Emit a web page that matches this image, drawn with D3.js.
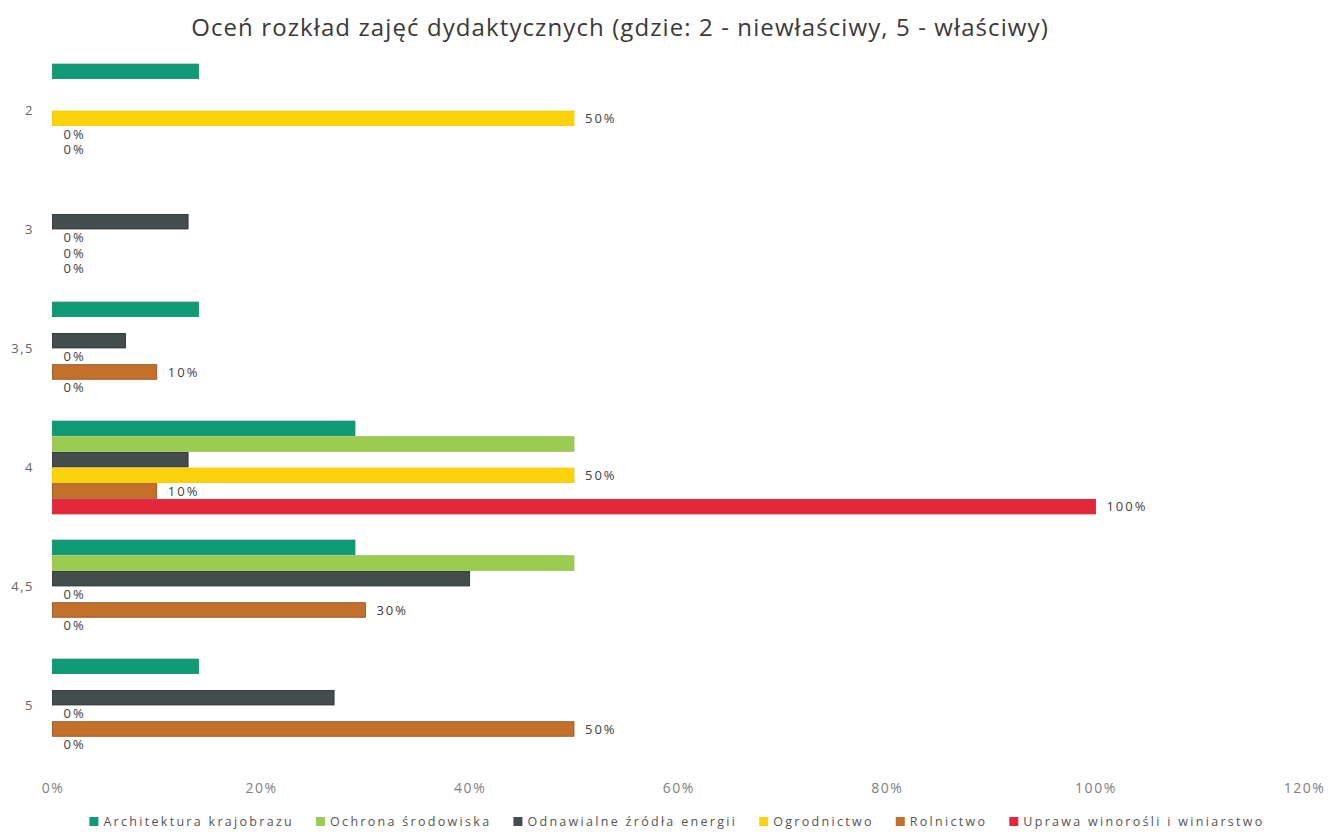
<!DOCTYPE html>
<html><head><meta charset="utf-8">
<script src="https://cdn.jsdelivr.net/npm/d3@7"></script>
<style>body{margin:0;background:#fff}svg{display:block}</style>
</head><body><svg id="c" width="1333" height="832"></svg>
<script>
const title = "Oceń rozkład zajęć dydaktycznych (gdzie: 2 - niewłaściwy, 5 - właściwy)";
const categories = ["2", "3", "3,5", "4", "4,5", "5"];
const seriesNames = ["Architektura krajobrazu", "Ochrona środowiska", "Odnawialne źródła energii", "Ogrodnictwo", "Rolnictwo", "Uprawa winorośli i winiarstwo"];
const architektura = [14, null, 14, 29, 29, 14];
const ochrona = [null, null, null, 50, 50, null];
const odnawialne = [null, 13, 7, 13, 40, 27];
const ogrodnictwo = [50, 0, 0, 50, 0, 0];
const rolnictwo = [0, 0, 10, 10, 30, 50];
const uprawa = [0, 0, 0, 100, 0, 0];
const labelled = [false, false, false, true, true, true];
const xTicks = [0, 20, 40, 60, 80, 100, 120];
const colors = ["#119a76", "#9ccb52", "#434d4d", "#fdd20a", "#c2702a", "#e2283a"];
const strokes = ["#0e8a69", "#92c04a", "#222a2a", "#f3c800", "#8e4d1a", "#c81e30"];

const values = [architektura, ochrona, odnawialne, ogrodnictwo, rolnictwo, uprawa];
const svg = d3.select("#c");
const x = d3.scaleLinear().domain([0, 120]).range([52.5, 1304]);
const y0 = d3.scaleBand().domain(categories).range([51, 765]).paddingInner(0.22).paddingOuter(0.11);
const y1 = d3.scaleBand().domain(d3.range(6)).range([0, y0.bandwidth()]).paddingInner(0.07);

svg.append("text").attr("x", 620).attr("y", 36).attr("text-anchor", "middle")
  .attr("font-family", "Open Sans").attr("font-size", 24).attr("letter-spacing", 1.1)
  .attr("fill", "#3a3a3a").text(title);

const g = svg.append("g");
categories.forEach((c, ci) => {
  values.forEach((arr, si) => {
    const v = arr[ci];
    if (v === null) return;
    const yy = y0(c) + y1(si);
    if (v > 0) {
      g.append("rect").attr("x", x(0)).attr("y", yy).attr("width", x(v) - x(0)).attr("height", y1.bandwidth())
        .attr("fill", colors[si]).attr("stroke", strokes[si]).attr("stroke-width", 0.8);
    }
    if (labelled[si]) {
      g.append("text").attr("x", x(v) + 11).attr("y", yy + y1.bandwidth() / 2).attr("dy", "0.36em")
        .attr("font-family", "Open Sans").attr("font-size", 13).attr("letter-spacing", 2)
        .attr("fill", "#404040").text(v + "%");
    }
  });
});

// category axis
svg.append("g").selectAll("text").data(categories).join("text")
  .attr("x", 34).attr("y", d => y0(d) + y0.bandwidth() / 2).attr("dy", "0.35em").attr("text-anchor", "end")
  .attr("font-family", "Open Sans").attr("font-size", 13).attr("letter-spacing", 1.5)
  .attr("fill", "#666").text(d => d);

// x axis
const xa = svg.append("g").attr("transform", "translate(0,788)")
  .call(d3.axisBottom(x).tickValues(xTicks).tickFormat(d => d + "%").tickSize(0).tickPadding(0));
xa.select(".domain").remove();
xa.selectAll("text").attr("font-family", "Open Sans").attr("font-size", 14).attr("fill", "#808080")
  .attr("dy", "0.35em").attr("letter-spacing", 1.5);

// legend
const lg = svg.append("g");
let cx = 0;
seriesNames.forEach((n, i) => {
  const it = lg.append("g");
  it.append("rect").attr("x", 0).attr("y", -5).attr("width", 9).attr("height", 9).attr("fill", colors[i]);
  const t = it.append("text").attr("x", 14).attr("y", 0).attr("dy", "0.35em")
    .attr("font-family", "Open Sans").attr("font-size", 12.5).attr("letter-spacing", 2.3)
    .attr("fill", "#555").text(n);
  const w = 14 + t.node().getComputedTextLength();
  it.attr("transform", `translate(${cx},0)`);
  cx += w + 22;
});
const total = cx - 22;
lg.attr("transform", `translate(${677 - total / 2},822)`);
</script></body></html>
